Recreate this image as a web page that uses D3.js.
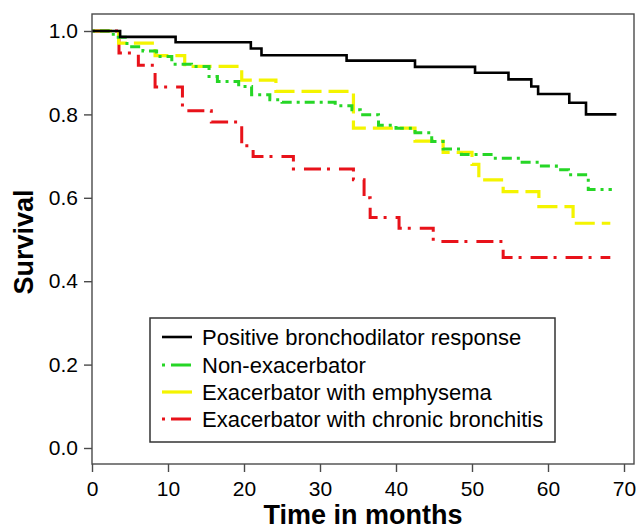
<!DOCTYPE html>
<html>
<head>
<meta charset="utf-8">
<script src="https://cdn.jsdelivr.net/npm/d3@7"></script>
<style>
  html, body { margin: 0; padding: 0; background: #fff; }
  svg { display: block; font-family: "Liberation Sans", Arial, Helvetica, sans-serif; }
</style>
</head>
<body>
<svg id="chart" width="637" height="531"></svg>
<script>
// ---- Data ----
const seriesNames = [
  "Positive bronchodilator response",
  "Non-exacerbator",
  "Exacerbator with emphysema",
  "Exacerbator with chronic bronchitis"
];

// Kaplan–Meier steps: time in months and survival after each step
const bronchoTimes = [0, 3.7, 11.0, 20.9, 22.3, 33.5, 42.5, 50.4, 54.8, 57.8, 58.7, 62.8, 65.0, 69.0];
const bronchoSurv  = [1.0, 0.986, 0.973, 0.958, 0.942, 0.929, 0.914, 0.900, 0.884, 0.867, 0.849, 0.828, 0.800, 0.800];

const nonExTimes = [0, 2.8, 4.6, 6.7, 8.5, 10.5, 13.1, 15.4, 16.5, 19.3, 21.0, 23.4, 25.0, 32.0, 34.2, 35.3, 37.7, 40.0, 42.5, 44.7, 46.2, 48.6, 52.8, 56.3, 58.9, 61.1, 62.7, 65.3, 68.4];
const nonExSurv  = [1.0, 0.985, 0.962, 0.952, 0.939, 0.920, 0.915, 0.891, 0.879, 0.867, 0.847, 0.835, 0.829, 0.821, 0.811, 0.799, 0.774, 0.767, 0.756, 0.735, 0.717, 0.704, 0.695, 0.685, 0.676, 0.667, 0.655, 0.620, 0.620];

const emphTimes = [0, 3.5, 8.3, 12.2, 19.7, 24.2, 34.4, 42.5, 46.2, 50.0, 50.9, 54.1, 58.8, 63.3, 68.2];
const emphSurv  = [1.0, 0.971, 0.941, 0.915, 0.882, 0.855, 0.767, 0.736, 0.709, 0.680, 0.643, 0.615, 0.579, 0.539, 0.539];

const bronchitisTimes = [0, 3.55, 6.1, 8.3, 11.9, 15.7, 19.7, 21.2, 26.5, 34.4, 35.8, 36.6, 40.4, 44.9, 54.1, 68.2];
const bronchitisSurv  = [1.0, 0.947, 0.918, 0.866, 0.809, 0.782, 0.725, 0.699, 0.669, 0.643, 0.600, 0.553, 0.527, 0.495, 0.457, 0.457];

const xTicks = [0, 10, 20, 30, 40, 50, 60, 70];
const yTicks = [0.0, 0.2, 0.4, 0.6, 0.8, 1.0];
const xTitle = "Time in months";
const yTitle = "Survival";

// ---- Styles ----
const styles = [
  { color: "#000000", width: 2.6, dash: null,          legendDash: null },
  { color: "#26d626", width: 3.0, dash: "3,5,10,5",    legendDash: "3,6,20" },
  { color: "#f4f400", width: 3.2, dash: "20,7",        legendDash: null },
  { color: "#e8121a", width: 3.0, dash: "17,6,3,9",    legendDash: "3,6,20" }
];

const series = [
  { name: seriesNames[0], t: bronchoTimes,    s: bronchoSurv },
  { name: seriesNames[1], t: nonExTimes,      s: nonExSurv },
  { name: seriesNames[2], t: emphTimes,       s: emphSurv },
  { name: seriesNames[3], t: bronchitisTimes, s: bronchitisSurv }
];

// ---- Layout ----
const svg = d3.select("#chart");
const frame = { left: 92, right: 634, top: 14, bottom: 464 };

const x = d3.scaleLinear().domain([0, 70]).range([92, 624]);
const y = d3.scaleLinear().domain([0, 1]).range([448, 31]);

svg.append("defs").append("clipPath").attr("id", "clip")
  .append("rect")
  .attr("x", frame.left).attr("y", frame.top)
  .attr("width", frame.right - frame.left).attr("height", frame.bottom - frame.top);

const line = d3.line()
  .x(d => x(d[0]))
  .y(d => y(d[1]))
  .curve(d3.curveStepAfter);

const drawOrder = [3, 2, 1, 0];
const curves = svg.append("g").attr("clip-path", "url(#clip)");
drawOrder.forEach(i => {
  const sr = series[i];
  const pts = sr.t.map((t, k) => [t, sr.s[k]]);
  const st = styles[i];
  curves.append("path")
    .attr("d", line(pts))
    .attr("fill", "none")
    .attr("stroke", st.color)
    .attr("stroke-width", st.width)
    .attr("stroke-dasharray", st.dash)
    .attr("stroke-linejoin", "miter");
});

// Frame
const frameColor = "#4a4a4a";
svg.append("rect")
  .attr("x", frame.left).attr("y", frame.top)
  .attr("width", frame.right - frame.left).attr("height", frame.bottom - frame.top)
  .attr("fill", "none").attr("stroke", frameColor).attr("stroke-width", 1.4);

// Axes
const yAxis = d3.axisLeft(y)
  .tickValues(yTicks)
  .tickFormat(d3.format(".1f"))
  .tickSize(8)
  .tickPadding(6);
const gy = svg.append("g").attr("transform", `translate(${frame.left},0)`).call(yAxis);
gy.select(".domain").remove();
gy.selectAll(".tick line").attr("stroke", frameColor).attr("stroke-width", 1.4);
gy.selectAll(".tick text").attr("font-size", 21).attr("fill", "#000")
  .attr("font-family", "Liberation Sans, Arial, sans-serif");

const xAxis = d3.axisBottom(x)
  .tickValues(xTicks)
  .tickFormat(d3.format("d"))
  .tickSize(8)
  .tickPadding(9);
const gx = svg.append("g").attr("transform", `translate(0,${frame.bottom})`).call(xAxis);
gx.select(".domain").remove();
gx.selectAll(".tick line").attr("stroke", frameColor).attr("stroke-width", 1.4);
gx.selectAll(".tick text").attr("font-size", 21).attr("fill", "#000")
  .attr("font-family", "Liberation Sans, Arial, sans-serif");

// Axis titles
svg.append("text")
  .attr("x", (frame.left + frame.right) / 2)
  .attr("y", 524)
  .attr("text-anchor", "middle")
  .attr("font-size", 27)
  .attr("font-weight", "bold")
  .attr("fill", "#000")
  .text(xTitle);

svg.append("text")
  .attr("transform", `translate(33,${(frame.top + frame.bottom) / 2 + 3}) rotate(-90)`)
  .attr("text-anchor", "middle")
  .attr("font-size", 27)
  .attr("font-weight", "bold")
  .attr("fill", "#000")
  .text(yTitle);

// Legend
const legend = svg.append("g");
const lg = { x: 150, y: 318, w: 405, h: 124 };
legend.append("rect")
  .attr("x", lg.x).attr("y", lg.y).attr("width", lg.w).attr("height", lg.h)
  .attr("fill", "#fff").attr("stroke", "#333").attr("stroke-width", 1.5);

const rowY = [337, 365, 392, 419];
series.forEach((sr, i) => {
  const st = styles[i];
  legend.append("line")
    .attr("x1", 162).attr("x2", 192)
    .attr("y1", rowY[i]).attr("y2", rowY[i])
    .attr("stroke", st.color)
    .attr("stroke-width", st.width)
    .attr("stroke-dasharray", st.legendDash);
  legend.append("text")
    .attr("x", 202).attr("y", rowY[i])
    .attr("dy", "0.35em")
    .attr("font-size", 22)
    .attr("fill", "#000")
    .text(sr.name);
});
</script>
</body>
</html>
